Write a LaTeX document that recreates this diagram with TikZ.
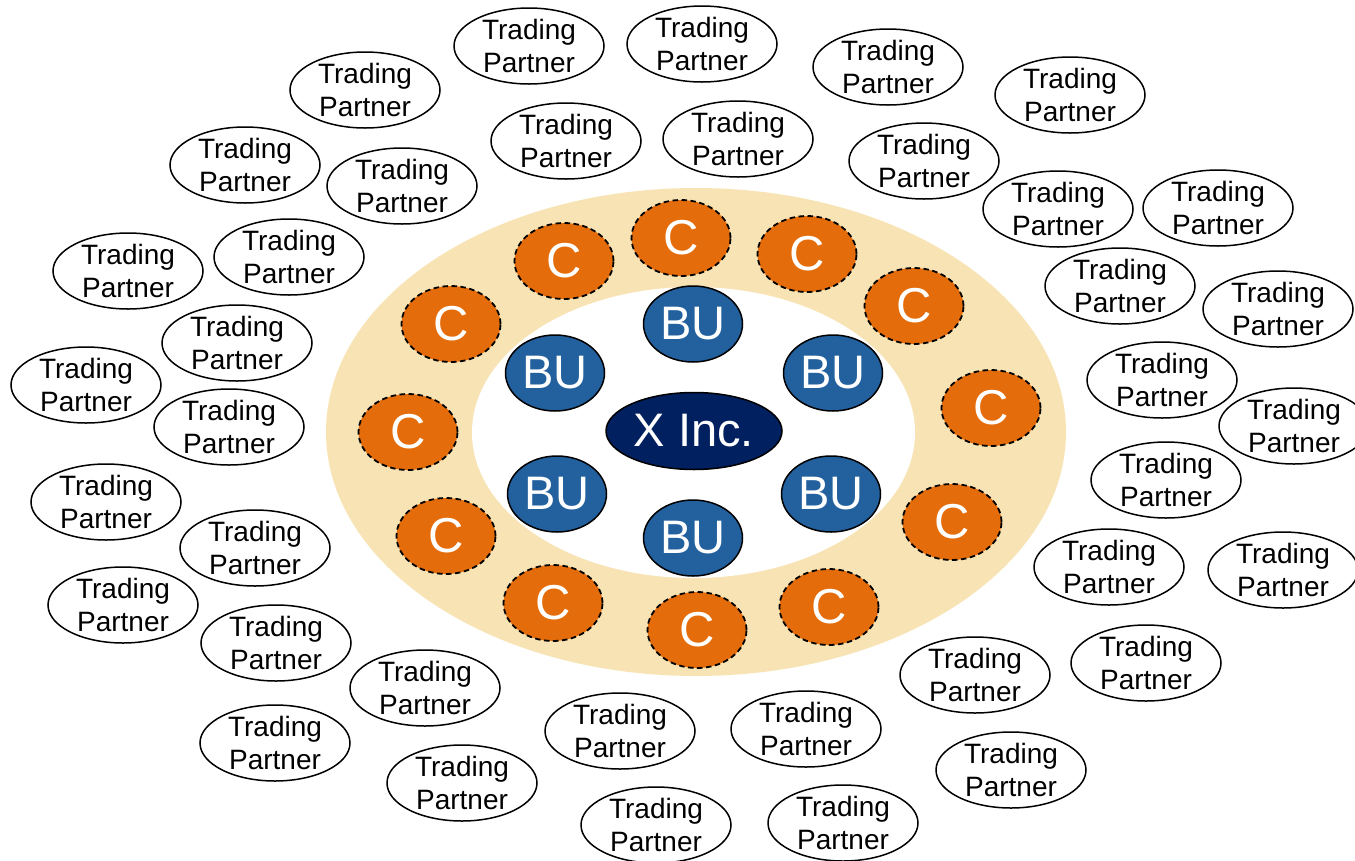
\documentclass[tikz,border=0pt]{standalone}
\usepackage{fontspec}
\setmainfont{Liberation Sans}
\usetikzlibrary{shapes.geometric}
\definecolor{ringtan}{HTML}{F8E3B4}
\definecolor{corange}{HTML}{E46C0A}
\definecolor{bublue}{HTML}{23609E}
\definecolor{xnavy}{HTML}{002060}
\begin{document}
\begin{tikzpicture}[x=1pt,y=-1pt,
 tp/.style={ellipse, draw=black, line width=1.5pt, fill=white, minimum width=150pt, minimum height=76pt, inner sep=0pt, align=center, font=\fontsize{28}{33}\selectfont},
 cnode/.style={ellipse, draw=black, dash pattern=on 5.5pt off 3.5pt, line width=1.8pt, fill=corange, text=white, minimum width=99pt, minimum height=76pt, inner sep=0pt, font=\fontsize{49}{49}\selectfont},
 bunode/.style={ellipse, draw=black, line width=1.5pt, fill=bublue, text=white, minimum width=99pt, minimum height=76pt, inner sep=0pt, font=\fontsize{47}{47}\selectfont},
 xnode/.style={ellipse, draw=black, line width=1.5pt, fill=xnavy, text=white, minimum width=176pt, minimum height=77pt, inner sep=0pt, font=\fontsize{47}{47}\selectfont},
 ringstyle/.style={ellipse, fill=ringtan, inner sep=0pt, minimum width=740pt, minimum height=488pt},
 holestyle/.style={ellipse, fill=white, inner sep=0pt, minimum width=443pt, minimum height=291pt}]
\useasboundingbox (0,0) rectangle (1355,860);
\clip (0,0) rectangle (1355,860);
\fill[white] (0,0) rectangle (1355,860);
% ring
\node[ringstyle] (ring) at (696,432) {};
\node[holestyle] (hole) at (693.5,432.5) {};
% trading partners
\foreach \n/\px/\py in {
 1/529/46, 2/702/44, 3/888/67, 4/1070/95, 5/365/90, 6/566/141, 7/738/139,
 8/924/161, 9/245/165, 10/402/186, 11/1058/209, 12/1218/208, 13/289/257,
 14/128/271, 15/1120/286, 16/1278/309, 17/237/343, 18/86/385, 19/229/427,
 20/1162/380, 21/1294/426, 22/106/502, 23/1166/480, 24/255/548, 25/1109/567,
 26/1283/570, 27/123/605, 28/276/643, 29/1146/663, 30/425/688, 31/975/675,
 32/620/731, 33/806/729, 34/275/743, 35/1011/770, 36/462/783, 37/656/825, 38/843/823}
 { \node[tp] (tp\n) at (\px,\py) {Trading\\Partner}; }
% C nodes
\foreach \n/\px/\py in {
 1/564/261, 2/681/238, 3/807/254, 4/914/306, 5/451/324, 6/991/408,
 7/408/432, 8/952/522, 9/446/536, 10/553/603, 11/697/630, 12/829/607}
 { \node[cnode] (c\n) at (\px,\py) {C}; }
% BU nodes
\foreach \n/\px/\py in {
 1/693/324, 2/555/373, 3/833/373, 4/557/494, 5/831/494, 6/693/538}
 { \node[bunode] (bu\n) at (\px,\py) {BU}; }
\node[xnode] (xinc) at (694,431) {X Inc.};
\end{tikzpicture}
\end{document}
